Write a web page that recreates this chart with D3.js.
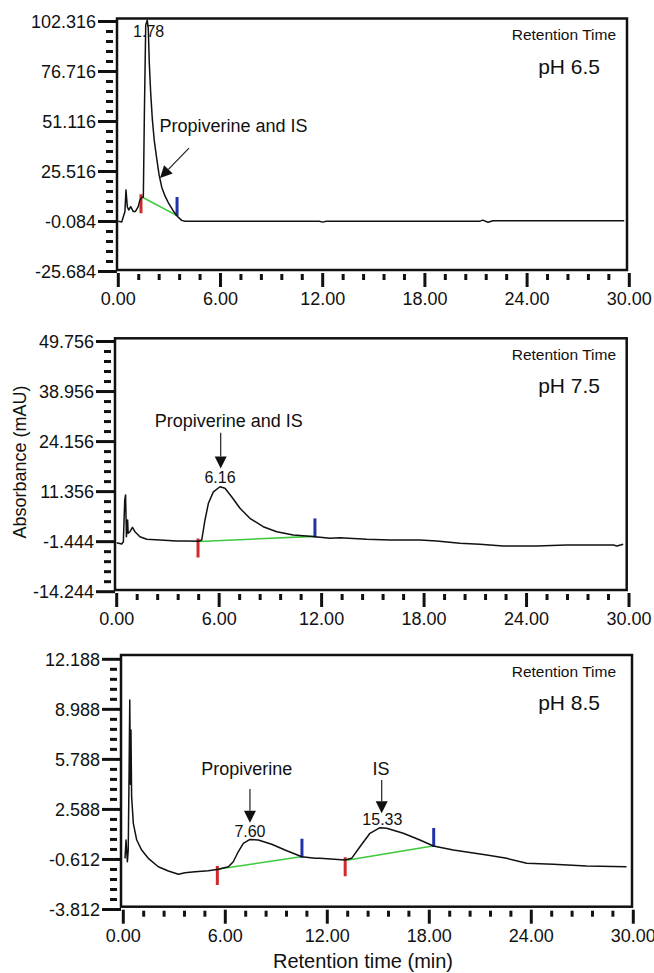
<!DOCTYPE html>
<html lang="en">
<head>
    <meta charset="UTF-8">
    <title>Chromatograms at pH 6.5, 7.5 and 8.5</title>
    <script src="https://d3js.org/d3.v7.min.js"></script>
    <style>
        body { margin: 0; background: #fff; }
        text { font-family: "Liberation Sans", Arial, Helvetica, sans-serif; fill: #111; }
    </style>
</head>
<body>
<script>
    const width = 654;
    const height = 973;

    // x axis (minutes)
    const xMajor = [0, 6, 12, 18, 24, 30];
    const xTickLabels = ["0.00", "6.00", "12.00", "18.00", "24.00", "30.00"];

    // y axis ticks per panel (labels as printed)
    const yTicks65 = ["-25.684", "-0.084", "25.516", "51.116", "76.716", "102.316"];
    const yTicks75 = ["-14.244", "-1.444", "11.356", "24.156", "38.956", "49.756"];
    const yTicks85 = ["-3.812", "-0.612", "2.588", "5.788", "8.988", "12.188"];

    // traces [time, mAU]
    const trace65 = [
        [0, 0], [0.2, -0.3], [0.39, 5], [0.45, 16.1], [0.53, 7.5], [0.61, 5.8], [0.73, 7.5],
        [0.88, 5], [1.0, 5], [1.17, 7.5], [1.27, 11], [1.37, 12.1], [1.47, 12.6],
        [1.53, 54.5], [1.61, 100.5], [1.70, 103], [1.76, 98.8], [1.82, 81], [1.90, 66],
        [2.0, 52], [2.11, 41.5], [2.25, 32.5], [2.39, 24], [2.55, 17.5], [2.74, 13],
        [2.94, 9.5], [3.23, 5.3], [3.43, 2.9], [3.72, 0.5], [3.92, 0], [11.8, 0],
        [12.0, -0.4], [12.2, 0], [21.2, 0], [21.4, 0.6], [21.7, -0.5], [22.0, 0.3], [29.7, 0.3]
    ];
    const trace75 = [
        [0.0, -1.71], [0.29, -2.04], [0.39, -1.45], [0.47, 9.2], [0.52, 10.5], [0.57, -0.17],
        [0.64, 4.1], [0.67, 0.7], [0.78, 1.1], [0.92, 2.23], [1.07, 1.1], [1.36, -0.17],
        [1.76, -0.84], [2.54, -1.02], [3.51, -1.27], [4.1, -1.27], [4.8, -1.35], [4.98, -1.02],
        [5.17, 4.1], [5.37, 8.37], [5.66, 11.3], [6.05, 12.6], [6.34, 12.2], [6.73, 10.06],
        [7.22, 7.09], [7.80, 4.53], [8.58, 2.38], [9.37, 1.11], [10.34, 0.26], [11.12, 0.0],
        [11.61, -0.17], [12.49, -0.58], [13.07, -0.43], [14.64, -0.84], [16.0, -1.02],
        [17.76, -1.02], [18.74, -1.27], [20.1, -1.86], [21.27, -2.12], [22.63, -2.55],
        [24.59, -2.55], [26.35, -2.3], [29.08, -2.3], [29.3, -2.55], [29.66, -2.12]
    ];
    const trace85 = [
        [0.1, -0.54], [0.16, 0.63], [0.24, -0.76], [0.29, 0.0], [0.34, 4.9], [0.38, 9.58],
        [0.42, 4.2], [0.45, 7.66], [0.49, 3.4], [0.59, 1.7], [0.79, 0.63], [1.08, -0.01],
        [1.47, -0.54], [2.06, -1.08], [2.65, -1.35], [3.24, -1.56], [3.63, -1.46], [4.22, -1.4],
        [5.0, -1.33], [5.59, -1.24], [6.18, -1.08], [6.47, -0.76], [6.76, -0.12], [7.06, 0.42],
        [7.45, 0.67], [7.94, 0.63], [8.73, 0.36], [9.51, -0.01], [10.5, -0.44], [11.28, -0.54],
        [11.57, -0.54], [13.04, -0.65], [13.43, -0.54], [13.92, 0.2], [14.51, 1.06], [15.1, 1.42],
        [15.49, 1.38], [16.47, 1.06], [17.45, 0.63], [18.24, 0.25], [19.41, -0.01], [21.38, -0.33],
        [22.55, -0.54], [23.73, -0.86], [25.29, -0.92], [27.26, -1.03], [29.6, -1.08]
    ];

    // integration baselines [[tStart, vStart], [tEnd, vEnd]]
    const base65 = [[[1.42, 12.3], [3.39, 3.2]]];
    const base75 = [[[4.85, -1.4], [11.55, -0.1]]];
    const base85 = [[[5.62, -1.22], [10.45, -0.44]], [[13.14, -0.66], [18.2, 0.25]]];

    // peak retention time labels [t, label]
    const peaks65 = [[1.78, "1.78"]];
    const peaks75 = [[6.05, "6.16"]];
    const peaks85 = [[7.45, "7.60"], [15.24, "15.33"]];

    const phLabels = ["pH 6.5", "pH 7.5", "pH 8.5"];

    // panel geometry (pixels)
    const layout = [
        {frame: [117, 18.5, 627, 270], xr: [118.3, 629.3], yr: [271.5, 21.5], step: 25.6, min: -25.684,
         yTicks: yTicks65, trace: trace65, base: base65, peaks: peaks65, peakYs: [94.4],
         notes: [{text: "Propiverine and IS", at: [6.76, 45.7], from: [4.15, 37.5], to: [2.45, 22.2]}]},
        {frame: [115, 338.3, 626.7, 590], xr: [116.7, 629], yr: [591.7, 341.5], step: 12.8, min: -14.244,
         yTicks: yTicks75, trace: trace75, base: base75, peaks: peaks75, peakYs: [13.5],
         notes: [{text: "Propiverine and IS", at: [6.56, 27.8], from: [6.09, 26.4], to: [6.09, 17.3]}]},
        {frame: [121, 655, 632, 906.7], xr: [123.3, 633.3], yr: [909.5, 659.3], step: 3.2, min: -3.812,
         yTicks: yTicks85, trace: trace85, base: base85, peaks: peaks85, peakYs: [0.84, 1.59],
         notes: [{text: "Propiverine", at: [7.26, 4.79], from: [7.45, 3.89], to: [7.45, 1.74]},
                 {text: "IS", at: [15.16, 4.79], from: [15.2, 4.47], to: [15.2, 2.34]}]}
    ];

    const svg = d3.select("body").append("svg")
        .attr("width", width).attr("height", height);

    svg.append("rect").attr("width", width).attr("height", height).attr("fill", "#fff");

    layout.forEach(function(p, i) {
        const [fl, ft, fr, fb] = p.frame;
        const yMax = p.min + 5 * p.step;
        const x = d3.scaleLinear().domain([0, 30]).range(p.xr);
        const y = d3.scaleLinear().domain([p.min, yMax]).range(p.yr);
        const g = svg.append("g");

        g.append("clipPath").attr("id", "clip" + i)
            .append("rect").attr("x", fl).attr("y", ft).attr("width", fr - fl).attr("height", fb - ft);

        const yMajor = d3.range(6).map(k => p.min + k * p.step);
        const yMinor = d3.range(26).map(k => p.min + k * p.step / 5).filter((d, k) => k % 5 !== 0);
        const xMinor = d3.range(26).map(k => k * 1.2).filter((d, k) => k % 5 !== 0);

        // tick marks
        const ticks = g.append("g").attr("stroke", "#111").attr("stroke-width", 3);
        ticks.selectAll("line.ymaj").data(yMajor).join("line").attr("class", "ymaj")
            .attr("x1", fl - 19).attr("x2", fl).attr("y1", d => y(d)).attr("y2", d => y(d));
        ticks.selectAll("line.ymin").data(yMinor).join("line").attr("class", "ymin")
            .attr("x1", fl - 11).attr("x2", fl - 4).attr("y1", d => y(d)).attr("y2", d => y(d));
        ticks.selectAll("line.xmaj").data(xMajor).join("line").attr("class", "xmaj")
            .attr("x1", d => x(d)).attr("x2", d => x(d)).attr("y1", fb + 3).attr("y2", fb + 17);
        ticks.selectAll("line.xmin").data(xMinor).join("line").attr("class", "xmin")
            .attr("x1", d => x(d)).attr("x2", d => x(d)).attr("y1", fb + 4).attr("y2", fb + 10);

        // tick labels
        g.selectAll("text.ylab").data(yMajor).join("text").attr("class", "ylab")
            .attr("x", fl - 21).attr("y", d => y(d)).attr("dy", "0.35em")
            .attr("text-anchor", "end").style("font-size", "18px")
            .text((d, k) => p.yTicks[k]);
        g.selectAll("text.xlab").data(xMajor).join("text").attr("class", "xlab")
            .attr("x", d => x(d)).attr("y", fb + 35)
            .attr("text-anchor", "middle").style("font-size", "18px")
            .text((d, k) => xTickLabels[k]);

        // frame
        g.append("rect").attr("x", fl).attr("y", ft).attr("width", fr - fl).attr("height", fb - ft)
            .attr("fill", "none").attr("stroke", "#111").attr("stroke-width", 2.5);

        const plot = g.append("g").attr("clip-path", `url(#clip${i})`);

        // integration baselines and start/end marks
        p.base.forEach(function(b) {
            plot.append("line")
                .attr("x1", x(b[0][0])).attr("y1", y(b[0][1]))
                .attr("x2", x(b[1][0])).attr("y2", y(b[1][1]))
                .attr("stroke", "#3dc93d").attr("stroke-width", 1.6);
            plot.append("line")
                .attr("x1", x(b[0][0]) - 1.5).attr("x2", x(b[0][0]) - 1.5)
                .attr("y1", y(b[0][1]) - 3).attr("y2", y(b[0][1]) + 16)
                .attr("stroke", "#d02a2a").attr("stroke-width", 3);
            plot.append("line")
                .attr("x1", x(b[1][0]) + 1).attr("x2", x(b[1][0]) + 1)
                .attr("y1", y(b[1][1]) - 18).attr("y2", y(b[1][1]) + 1)
                .attr("stroke", "#2233aa").attr("stroke-width", 3);
        });

        // trace
        const line = d3.line().x(d => x(d[0])).y(d => y(d[1]));
        plot.append("path").datum(p.trace)
            .attr("d", line)
            .attr("fill", "none").attr("stroke", "#111").attr("stroke-width", 1.5)
            .attr("stroke-linejoin", "round");

        // peak labels
        p.peaks.forEach(function(pk, k) {
            g.append("text").attr("x", x(pk[0])).attr("y", y(p.peakYs[k]))
                .attr("text-anchor", "middle").style("font-size", "16px").text(pk[1]);
        });

        // compound labels with arrows
        p.notes.forEach(function(n) {
            g.append("text").attr("x", x(n.at[0])).attr("y", y(n.at[1]))
                .attr("text-anchor", "middle").style("font-size", "18px").text(n.text);
            const x1 = x(n.from[0]), y1 = y(n.from[1]), x2 = x(n.to[0]), y2 = y(n.to[1]);
            const ang = Math.atan2(y2 - y1, x2 - x1);
            const len = 12, hw = 6;
            const bx = x2 - len * Math.cos(ang), by = y2 - len * Math.sin(ang);
            g.append("line").attr("x1", x1).attr("y1", y1).attr("x2", bx).attr("y2", by)
                .attr("stroke", "#222").attr("stroke-width", 1.2);
            const pts = [
                [x2, y2],
                [bx + hw * Math.sin(ang), by - hw * Math.cos(ang)],
                [bx - hw * Math.sin(ang), by + hw * Math.cos(ang)]
            ];
            g.append("path").attr("d", "M" + pts.join("L") + "Z").attr("fill", "#111");
        });

        // corner labels
        g.append("text").attr("x", 616).attr("y", ft + 21.5)
            .attr("text-anchor", "end").style("font-size", "15.5px").text("Retention Time");
        g.append("text").attr("x", 600).attr("y", ft + 55)
            .attr("text-anchor", "end").style("font-size", "21px").text(phLabels[i]);
    });

    // axis titles
    svg.append("text")
        .attr("transform", "translate(26,462) rotate(-90)")
        .attr("text-anchor", "middle").style("font-size", "18px")
        .text("Absorbance (mAU)");

    svg.append("text")
        .attr("x", 363).attr("y", 968)
        .attr("text-anchor", "middle").style("font-size", "20px")
        .text("Retention time (min)");
</script>
</body>
</html>
